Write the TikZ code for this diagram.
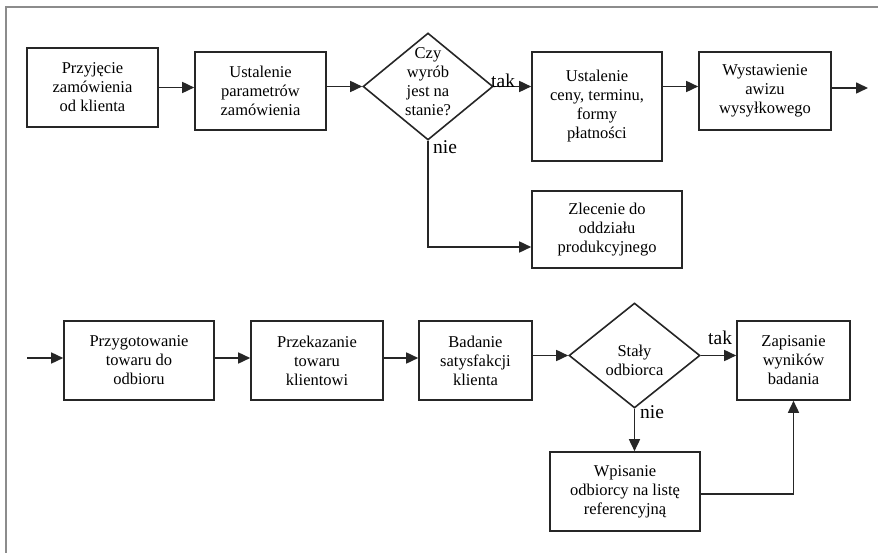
\documentclass[tikz,border=0pt]{standalone}
\usepackage{fontspec}
\setmainfont{Liberation Serif}
\usetikzlibrary{arrows.meta,shapes.geometric}
\begin{document}
\begin{tikzpicture}[x=1pt,y=-1pt,
  flow/.style={-{Triangle[length=12pt,width=11pt]},line width=1.6pt,draw=black!85},
  stepbox/.style={draw=black!85,line width=1.6pt,rectangle,inner sep=0pt,
    align=center,font=\fontsize{16.5}{19}\selectfont},
  decbox/.style={draw=black!85,line width=1.6pt,diamond,inner sep=0pt},
  dtext/.style={align=center,inner sep=0pt,font=\fontsize{16.5}{19}\selectfont},
  branch/.style={inner sep=0pt,font=\fontsize{19.5}{22}\selectfont},
  frame/.style={draw=black!45,line width=1.8pt}]
\useasboundingbox (0,0) rectangle (878,553);
% page frame (top and left edges only)
\draw[frame] (6,553) -- (6,7) -- (878,7);

% --- upper row ---
\node[stepbox,minimum width=131pt,minimum height=79pt] (b1) at (92.5,87.5)
  {Przyjęcie\\zamówienia\\od klienta};
\node[stepbox,minimum width=131pt,minimum height=78pt] (b2) at (260.5,91)
  {Ustalenie\\parametrów\\zamówienia};
\node[decbox,minimum width=130pt,minimum height=107pt] (d1) at (428,86.5) {};
\node[dtext] (d1t) at (428,81.5) {Czy\\wyrób\\jest na\\stanie?};
\node[stepbox,minimum width=130pt,minimum height=109pt] (b3) at (597,106.5)
  {Ustalenie\\ceny, terminu,\\formy\\płatności};
\node[stepbox,minimum width=132pt,minimum height=78pt] (b4) at (765,91)
  {Wystawienie\\awizu\\wysyłkowego};
\node[stepbox,minimum width=150pt,minimum height=77pt] (b5) at (607,229.5)
  {Zlecenie do\\oddziału\\produkcyjnego};
\coordinate (out) at (868,88);

\draw[flow] (b1.east) -- (b1.east -| b2.west);
\draw[flow] (d1.west -| b2.east) -- (d1.west);
\draw[flow] (d1.east) -- (d1.east -| b3.west);
\draw[flow] (d1.east -| b3.east) -- (d1.east -| b4.west);
\draw[flow] (out -| b4.east) -- (out);
\draw[flow] (d1.south) |- ([yshift=-17.5pt]b5.west);
\node[branch,anchor=base west] (tak1) at (491,88) {tak};
\node[branch,anchor=base west] (nie1) at (433,154) {nie};

% --- lower row ---
\coordinate (in) at (27,358);
\node[stepbox,minimum width=150pt,minimum height=79pt] (b6) at (139,360.5)
  {Przygotowanie\\towaru do\\odbioru};
\node[stepbox,minimum width=132pt,minimum height=79pt] (b7) at (317,360.5)
  {Przekazanie\\towaru\\klientowi};
\node[stepbox,minimum width=113pt,minimum height=79pt] (b8) at (475.5,360.5)
  {Badanie\\satysfakcji\\klienta};
\node[decbox,minimum width=131pt,minimum height=105pt] (d2) at (634.5,355.5) {};
\node[dtext] (d2t) at (634.5,360) {Stały\\odbiorca};
\node[stepbox,minimum width=113pt,minimum height=79pt] (b9) at (793.5,360.5)
  {Zapisanie\\wyników\\badania};
\node[stepbox,minimum width=150pt,minimum height=79pt] (b10) at (625,491.5)
  {Wpisanie\\odbiorcy na listę\\referencyjną};

\draw[flow] (in) -- (in -| b6.west);
\draw[flow] (in -| b6.east) -- (in -| b7.west);
\draw[flow] (in -| b7.east) -- (in -| b8.west);
\draw[flow] (d2.west -| b8.east) -- (d2.west);
\draw[flow] (d2.east) -- (d2.east -| b9.west);
\draw[flow] (d2.south) -- (d2.south |- b10.north);
\draw[flow] ([yshift=-2.5pt]b10.east) -| (b9.south);
\node[branch,anchor=base west] (tak2) at (708,344) {tak};
\node[branch,anchor=base west] (nie2) at (640,418) {nie};
\end{tikzpicture}
\end{document}
